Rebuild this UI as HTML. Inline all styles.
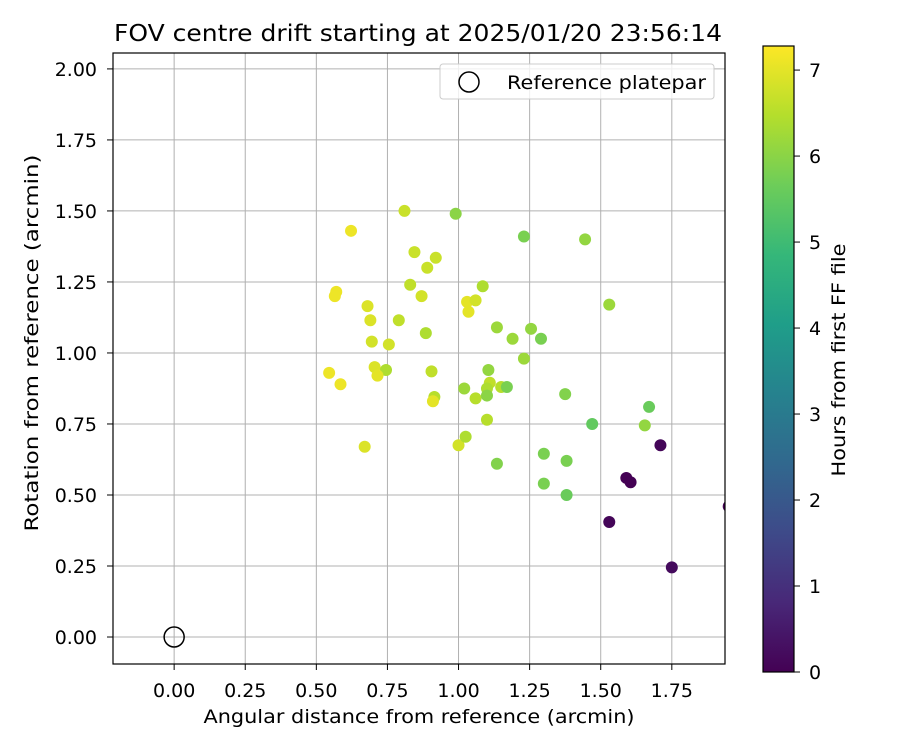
<!DOCTYPE html>
<html><head><meta charset="utf-8"><style>
body{margin:0;background:#fff;}
svg text{font-family:"DejaVu Sans","Liberation Sans",sans-serif;fill:#000;}
</style></head><body>
<svg id="c" width="900" height="750" xmlns="http://www.w3.org/2000/svg">
<defs><linearGradient id="vir" x1="0" y1="1" x2="0" y2="0"></linearGradient>
<clipPath id="pc"><rect x="113" y="53" width="612" height="611"/></clipPath></defs>
</svg>
<script>
const xs=[0.622,0.81,0.99,0.845,0.92,0.89,0.83,0.87,0.57,0.565,0.68,0.69,0.79,0.885,0.695,0.755,1.085,1.03,1.06,1.035,1.23,1.445,1.53,1.135,1.255,1.19,1.29,1.23,1.105,0.705,0.745,0.715,0.545,0.585,0.905,0.915,0.91,1.02,1.06,1.11,1.10,1.10,1.15,1.17,1.375,1.47,1.67,1.655,1.10,1.00,1.025,0.67,1.135,1.30,1.38,1.30,1.38,1.71,1.59,1.605,1.53,1.75,1.95];
const ys=[1.43,1.50,1.49,1.355,1.335,1.30,1.24,1.20,1.215,1.20,1.165,1.115,1.115,1.07,1.04,1.03,1.235,1.18,1.185,1.145,1.41,1.40,1.17,1.09,1.085,1.05,1.05,0.98,0.94,0.95,0.94,0.92,0.93,0.89,0.935,0.845,0.83,0.875,0.84,0.895,0.875,0.85,0.88,0.88,0.855,0.75,0.81,0.745,0.765,0.675,0.705,0.67,0.61,0.645,0.62,0.54,0.50,0.675,0.56,0.545,0.405,0.245,0.46];
const hours=[7.1,6.7,6.0,6.7,6.7,6.7,6.6,6.8,7.1,7.1,6.9,6.9,6.6,6.4,6.8,6.8,6.4,7.0,6.8,7.0,5.8,6.1,6.2,6.2,6.1,6.2,5.8,6.2,6.1,6.9,6.4,7.0,7.1,7.1,6.6,6.5,7.0,6.2,6.5,6.6,6.4,6.0,6.5,5.8,5.9,5.5,5.6,6.1,6.5,6.8,6.4,6.9,5.9,5.8,5.8,5.8,5.6,0.1,0.0,0.0,0.1,0.2,0.0];
const xTicks=[0,0.25,0.5,0.75,1.0,1.25,1.5,1.75];
const yTicks=[0,0.25,0.5,0.75,1.0,1.25,1.5,1.75,2.0];
const cTicks=[0,1,2,3,4,5,6,7];
const X0=113,X1=725,Y0=53,Y1=664,xmin=-0.215,xmax=1.937,ymin=-0.095,ymax=2.056,hmax=7.28;
const sx=v=>X0+(v-xmin)/(xmax-xmin)*(X1-X0);
const sy=v=>Y1-(v-ymin)/(ymax-ymin)*(Y1-Y0);
const stops=[[68,1,84],[72,40,120],[62,74,137],[49,104,142],[38,130,142],[31,158,137],[53,183,121],[109,205,89],[180,222,44],[253,231,37]];
function vir(t){t=Math.max(0,Math.min(1,t));const f=t*9,i=Math.min(8,Math.floor(f)),r=f-i;const a=stops[i],b=stops[i+1];return `rgb(${a.map((v,k)=>Math.round(v+(b[k]-v)*r)).join(',')})`;}
const svg=document.getElementById('c');const NS='http://www.w3.org/2000/svg';
function el(t,a,p){const e=document.createElementNS(NS,t);for(const k in a)e.setAttribute(k,a[k]);(p||svg).appendChild(e);return e;}
const g=document.getElementById('vir');
stops.forEach((s,i)=>el('stop',{offset:i/9,'stop-color':`rgb(${s})`},g));
xTicks.forEach(v=>{const l=el('line',{x1:sx(v),x2:sx(v),y1:Y0,y2:Y1,stroke:'#b0b0b0','stroke-width':1});

el('line',{x1:sx(v),x2:sx(v),y1:Y1,y2:Y1+6,stroke:'#000'});
const tx=el('text',{x:sx(v),y:Y1+33,'text-anchor':'middle','font-size':19});tx.textContent=v.toFixed(2);
});
yTicks.forEach(v=>{const l=el('line',{x1:X0,x2:X1,y1:sy(v),y2:sy(v),stroke:'#b0b0b0','stroke-width':1});

el('line',{x1:X0-6,x2:X0,y1:sy(v),y2:sy(v),stroke:'#000'});
const tx=el('text',{x:X0-16,y:sy(v)+7,'text-anchor':'end','font-size':19});tx.textContent=v.toFixed(2);
});
const pts=el('g',{'clip-path':'url(#pc)'});

xs.forEach((x,i)=>{const c=el('circle',{cx:sx(x),cy:sy(ys[i]),r:6,fill:vir(hours[i]/hmax)},pts);
});
const ref=el('circle',{cx:sx(0),cy:sy(0),r:10,fill:'none',stroke:'#000','stroke-width':1.5});

el('rect',{x:X0,y:Y0,width:X1-X0,height:Y1-Y0,fill:'none',stroke:'#000','stroke-width':1.2});
const lg=el('g',{});
el('rect',{x:440,y:64,width:274,height:35,rx:3,fill:'#fff','fill-opacity':0.8,stroke:'#ccc'},lg);
el('circle',{cx:469,cy:82,r:10,fill:'none',stroke:'#000','stroke-width':1.5},lg);
const lt=el('text',{x:507,y:89,'font-size':19,textLength:199,lengthAdjust:'spacingAndGlyphs'},lg);lt.textContent='Reference platepar';
const ti=el('text',{x:418,y:41,'text-anchor':'middle','font-size':23,textLength:608,lengthAdjust:'spacingAndGlyphs'});ti.textContent='FOV centre drift starting at 2025/01/20 23:56:14';

const xl=el('text',{x:419,y:723,'text-anchor':'middle','font-size':19,textLength:431,lengthAdjust:'spacingAndGlyphs'});xl.textContent='Angular distance from reference (arcmin)';

const yl=el('text',{x:0,y:0,'text-anchor':'middle','font-size':19,textLength:377,lengthAdjust:'spacingAndGlyphs',transform:'translate(38,343) rotate(-90)'});yl.textContent='Rotation from reference (arcmin)';

const CB0=46,CB1=672;const cy=v=>CB1-v/hmax*(CB1-CB0);
const cb=el('rect',{x:763,y:CB0,width:31,height:CB1-CB0,fill:'url(#vir)',stroke:'#000','stroke-width':1.2});

cTicks.forEach(v=>{el('line',{x1:794,x2:800,y1:cy(v),y2:cy(v),stroke:'#000'});
const t=el('text',{x:809,y:cy(v)+7,'font-size':19});t.textContent=v;
});
const cl=el('text',{x:0,y:0,'text-anchor':'middle','font-size':19,textLength:233,lengthAdjust:'spacingAndGlyphs',transform:'translate(845,360) rotate(-90)'});cl.textContent='Hours from first FF file';

</script>
</body></html>
